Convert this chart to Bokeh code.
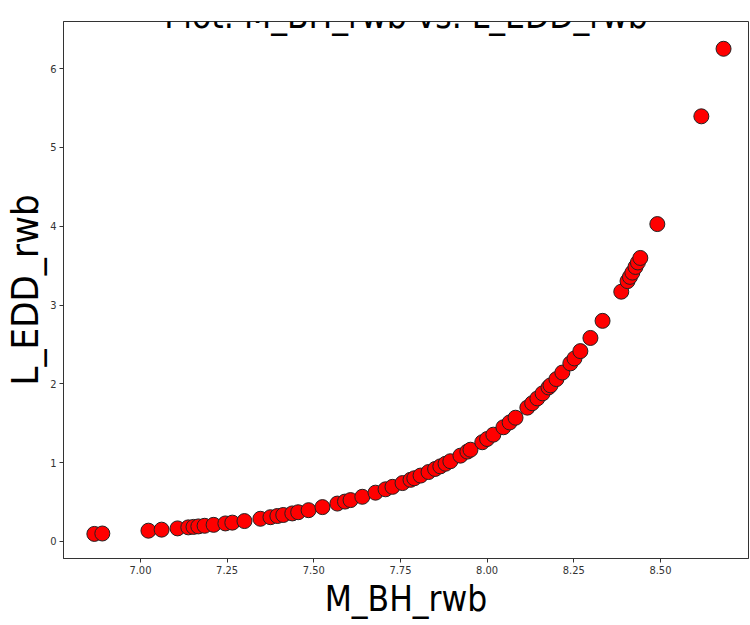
from bokeh.plotting import figure
from bokeh.models import Range1d, FixedTicker, NumeralTickFormatter, Label, ColumnDataSource
from bokeh.embed import file_html
from bokeh.resources import INLINE

# M_BH_rwb (log solar masses)
m_bh_rwb = [6.867, 6.890, 7.023, 7.061, 7.107, 7.138, 7.153, 7.167, 7.185, 7.211,
            7.245, 7.265, 7.300, 7.346, 7.375, 7.395, 7.412, 7.438, 7.455, 7.485,
            7.525, 7.568, 7.590, 7.606, 7.640, 7.678, 7.707, 7.727, 7.756, 7.779,
            7.790, 7.808, 7.831, 7.850, 7.865, 7.880, 7.894, 7.923, 7.943, 7.952,
            7.986, 8.000, 8.018, 8.047, 8.065, 8.082, 8.116, 8.130, 8.145, 8.160,
            8.177, 8.183, 8.200, 8.217, 8.240, 8.252, 8.269, 8.298, 8.333, 8.387,
            8.405, 8.412, 8.419, 8.428, 8.435, 8.442, 8.491, 8.618, 8.682]
# L_EDD_rwb in units of 1e46
l_edd_rwb_1e46 = [0.096, 0.101, 0.137, 0.150, 0.166, 0.179, 0.185, 0.191, 0.199, 0.211,
                  0.229, 0.239, 0.259, 0.288, 0.308, 0.323, 0.336, 0.356, 0.371, 0.397,
                  0.436, 0.481, 0.506, 0.525, 0.567, 0.619, 0.662, 0.693, 0.741, 0.782,
                  0.802, 0.836, 0.881, 0.920, 0.953, 0.986, 1.018, 1.089, 1.140, 1.164,
                  1.259, 1.300, 1.355, 1.449, 1.510, 1.570, 1.698, 1.754, 1.815, 1.879,
                  1.954, 1.981, 2.060, 2.143, 2.259, 2.322, 2.415, 2.582, 2.799, 3.169,
                  3.303, 3.357, 3.411, 3.483, 3.540, 3.597, 4.027, 5.394, 6.251]

x_ticks = [7.0, 7.25, 7.5, 7.75, 8.0, 8.25, 8.5]
y_ticks = [0, 1, 2, 3, 4, 5, 6]

FONT = "DejaVu Sans Condensed"

p = figure(width=750, height=625, output_backend="svg", toolbar_location=None,
           x_range=Range1d(6.778, 8.754), y_range=Range1d(-0.216, 6.597),
           min_border_left=63, min_border_right=2, min_border_top=21, min_border_bottom=67)

src = ColumnDataSource(dict(x=m_bh_rwb, y=l_edd_rwb_1e46))
p.scatter("x", "y", source=src, size=15, fill_color="#ff0000", line_color="#222222",
          line_width=1)

p.xgrid.visible = False
p.ygrid.visible = False
p.outline_line_color = "#333333"
p.outline_line_width = 1

p.xaxis.ticker = FixedTicker(ticks=x_ticks)
p.xaxis.formatter = NumeralTickFormatter(format="0.00")
p.yaxis.ticker = FixedTicker(ticks=y_ticks)

for ax in (p.xaxis[0], p.yaxis[0]):
    ax.minor_tick_line_color = None
    ax.major_tick_out = 4
    ax.major_tick_in = 0
    ax.axis_line_color = "#333333"
    ax.major_tick_line_color = "#333333"
    ax.major_label_text_font = FONT
    ax.major_label_text_font_size = "11px"
    ax.major_label_text_color = "#333333"
    ax.major_label_standoff = 3
    ax.axis_label_text_font = FONT
    ax.axis_label_text_font_style = "normal"
    ax.axis_label_text_color = "#000000"

p.yaxis.axis_label_text_font_size = "38px"
p.yaxis.axis_label_standoff = 0
p.xaxis.axis_label_text_font_size = "35px"
p.xaxis.axis_label_standoff = 2

p.xaxis.axis_label = "M_BH_rwb"
p.yaxis.axis_label = "L_EDD_rwb"

title = Label(x=7.766, y=6.673, text="Plot: M_BH_rwb vs. L_EDD_rwb", text_align="center",
              text_baseline="alphabetic", text_font=FONT, text_font_size="35px",
              text_color="#000000")
p.add_layout(title)

offset_lbl = Label(x=6.778, y=6.597, text="1e46", text_align="left", text_baseline="bottom",
                   y_offset=2, text_font=FONT, text_font_size="11px", text_color="#333333")
p.add_layout(offset_lbl)

open("out.html", "w").write(file_html(p, INLINE))
